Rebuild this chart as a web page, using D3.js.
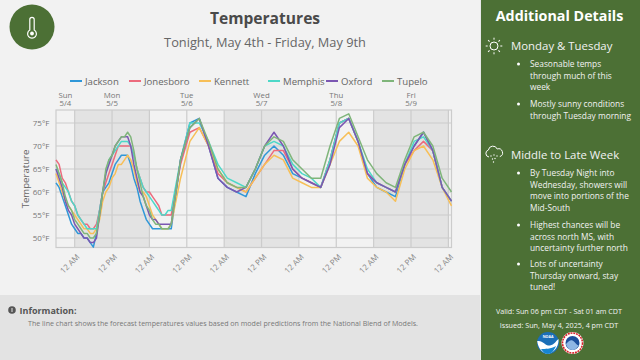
<!DOCTYPE html>
<html lang="en-us">
<head>
<meta charset="utf-8">
<title>Temperatures</title>
<script src="https://d3js.org/d3.v7.min.js"></script>
<style>
  html, body { margin: 0; padding: 0; background: #f2f2f2; }
  svg { display: block; font-family: "Open Sans", sans-serif; }
</style>
</head>
<body>
<div id="chart"></div>
<script>
// hours since Sun 6 pm: hourly at first, then every 3 hours
var hours = [0,1,2,3,4,5,6,7,8,9,10,11,12,13,14,15,16,17,18,19,20,21,22,23,24,25,26,27,28,29,30,31,32,33,34,35,36,37,
  40,43,46,49,52,55,58,61,64,67,70,73,76,79,82,85,88,91,94,97,100,103,106,109,112,115,118,121,124,127];

var jackson = [62,61,59,57,55,53,52,51,51,50,50,49,48,51,56,60,61,62,64,66,67,68,68,68,66,63,61,58,56,54,53,52,52,52,52,52,52,52,
  67,75,76,70,63,61,60,59,64,68,70,68,64,63,62,61,67,75,76,71,64,61,60,59,66,70,73,69,61,58];
var jonesboro = [67,66,63,62,60,58,57,55,54,53,53,52,52,53,56,60,62,64,66,68,70,70,70,70,70,68,65,63,61,60,60,59,58,57,55,55,55,55,
  66,73,74,70,64,62,61,60,63,66,69,69,65,63,62,61,67,75,76,71,64,62,61,60,66,69,71,69,61,58];
var kennett = [64,62,60,58,57,56,55,54,53,52,52,51,51,52,54,58,60,61,63,64,66,66,67,68,67,65,62,60,60,59,57,55,54,53,52,52,52,53,
  63,71,74,70,65,62,61,60,63,66,68,67,63,62,61,61,66,71,73,70,63,61,60,58,65,69,70,67,61,57];
var memphis = [65,64,62,61,60,58,57,55,54,53,52,52,52,52,56,60,64,67,68,69,70,71,71,71,70,68,65,63,61,60,59,58,57,56,55,55,56,56,
  67,75,75,71,66,63,62,61,65,70,71,70,66,64,63,61,67,75,76,71,65,62,61,60,66,71,72,69,61,58];
var oxford = [65,63,61,58,56,55,53,52,51,50,50,49,49,50,55,60,64,66,68,70,71,72,72,72,70,66,63,60,59,57,55,54,54,53,53,53,53,53,
  67,74,76,70,63,61,60,61,65,70,73,70,65,63,62,61,66,74,76,71,64,62,61,60,66,70,73,69,61,58];
var tupelo = [66,64,62,59,57,56,54,53,52,51,51,50,50,51,55,60,65,67,68,70,71,72,72,73,72,69,65,62,59,57,56,54,53,53,52,52,52,53,
  67,74,76,71,65,62,61,61,65,70,72,71,67,65,63,63,70,76,77,72,67,64,62,61,67,72,73,70,63,60];

var seriesNames = ["Jackson", "Jonesboro", "Kennett", "Memphis", "Oxford", "Tupelo"];
var seriesValues = [jackson, jonesboro, kennett, memphis, oxford, tupelo];
var seriesColors = ["#2f97d8", "#ec6b7d", "#f7bf57", "#4dd8c8", "#7b57b2", "#7fb57a"];

var yTicks = [50, 55, 60, 65, 70, 75];
var dayHours = [3, 18, 42, 66, 90, 114];
var dayNames = ["Sun", "Mon", "Tue", "Wed", "Thu", "Fri"];
var dayDates = ["5/4", "5/5", "5/6", "5/7", "5/8", "5/9"];
var xTickHours = [6, 18, 30, 42, 54, 66, 78, 90, 102, 114, 126];
var xTickLabels = ["12 AM", "12 PM", "12 AM", "12 PM", "12 AM", "12 PM", "12 AM", "12 PM", "12 AM", "12 PM", "12 AM"];
var nightStart = [6, 54, 102];
var nightEnd = [30, 78, 126];

var svg = d3.select("#chart").append("svg").attr("width", 640).attr("height", 360);
svg.append("rect").attr("width", 640).attr("height", 360).attr("fill", "#f2f2f2");

// header
svg.append("circle").attr("cx", 32).attr("cy", 27).attr("r", 22.5).attr("fill", "#4c7035");
var thermo = svg.append("g").attr("fill", "none").attr("stroke", "#fff").attr("stroke-width", 1.2);
thermo.append("path").attr("d", "M29.8 30V19.5a2.2 2.2 0 0 1 4.4 0V30a4.4 4.4 0 1 1-4.4 0z");
thermo.append("circle").attr("cx", 32).attr("cy", 33.5).attr("r", 1.9).attr("fill", "#fff").attr("stroke", "none");
svg.append("text").attr("x", 265).attr("y", 24).attr("text-anchor", "middle")
  .attr("font-size", 15.6).attr("font-weight", 700).attr("fill", "#4a4a4a").text("Temperatures");
svg.append("text").attr("x", 265).attr("y", 47).attr("text-anchor", "middle")
  .attr("font-size", 12.8).attr("fill", "#666").text("Tonight, May 4th - Friday, May 9th");

// chart
var plotLeft = 56, plotRight = 451.5, plotTop = 110, plotBottom = 247.5;
var x = d3.scaleLinear().domain([0, 127]).range([plotLeft, plotRight]);
var y = d3.scaleLinear().domain([47.93, 77.83]).range([plotBottom, plotTop]);

svg.selectAll(".night").data(nightStart).enter().append("rect")
  .attr("class", "night")
  .attr("x", function(d) { return x(d); })
  .attr("y", plotTop)
  .attr("width", function(d, i) { return x(nightEnd[i]) - x(d); })
  .attr("height", plotBottom - plotTop)
  .attr("fill", "#e3e3e3");

var gridColor = "#cccccc";
svg.selectAll(".hgrid").data(yTicks).enter().append("line")
  .attr("class", "hgrid")
  .attr("x1", plotLeft).attr("x2", plotRight)
  .attr("y1", function(d) { return y(d); })
  .attr("y2", function(d) { return y(d); })
  .attr("stroke", gridColor).attr("stroke-width", 1.2);
svg.selectAll(".vgrid").data(xTickHours).enter().append("line")
  .attr("class", "vgrid")
  .attr("x1", function(d) { return x(d); })
  .attr("x2", function(d) { return x(d); })
  .attr("y1", plotTop).attr("y2", plotBottom)
  .attr("stroke", gridColor).attr("stroke-width", 1.2);
svg.append("rect").attr("x", plotLeft).attr("y", plotTop)
  .attr("width", plotRight - plotLeft).attr("height", plotBottom - plotTop)
  .attr("fill", "none").attr("stroke", gridColor).attr("stroke-width", 1.2);

// y axis
var yAxis = d3.axisLeft(y).tickValues(yTicks).tickSize(0).tickPadding(6.5)
  .tickFormat(function(d) { return d + "°F"; });
var yG = svg.append("g").attr("transform", "translate(" + plotLeft + ",0)").call(yAxis);
yG.select(".domain").remove();
yG.selectAll("text").attr("font-size", 8).attr("font-family", "Open Sans").attr("fill", "#777");

svg.append("text").attr("transform", "translate(29,179) rotate(-90)")
  .attr("text-anchor", "middle").attr("font-size", 9.6).attr("fill", "#666").text("Temperature");

// bottom axis
var xAxis = d3.axisBottom(x).tickValues(xTickHours).tickSize(0).tickPadding(0)
  .tickFormat(function(d, i) { return xTickLabels[i]; });
var xG = svg.append("g").attr("transform", "translate(0," + plotBottom + ")").call(xAxis);
xG.select(".domain").remove();
xG.selectAll("text")
  .attr("font-size", 8).attr("font-family", "Open Sans").attr("fill", "#888")
  .attr("text-anchor", "end").attr("dy", 0)
  .attr("transform", "translate(5,10) rotate(-45)");

// day labels on top
var dayG = svg.selectAll(".day").data(dayHours).enter().append("text")
  .attr("class", "day")
  .attr("text-anchor", "middle").attr("font-size", 7.8).attr("fill", "#777");
dayG.append("tspan")
  .attr("x", function(d) { return x(d); }).attr("y", 97.5)
  .text(function(d, i) { return dayNames[i]; });
dayG.append("tspan")
  .attr("x", function(d) { return x(d); }).attr("y", 105.5)
  .text(function(d, i) { return dayDates[i]; });

// lines
var line = d3.line()
  .x(function(d, i) { return x(hours[i]); })
  .y(function(d) { return y(d); });
svg.selectAll(".series").data(seriesValues).enter().append("path")
  .attr("class", "series")
  .attr("fill", "none")
  .attr("stroke", function(d, i) { return seriesColors[i]; })
  .attr("stroke-width", 1.5)
  .attr("stroke-linejoin", "round")
  .attr("d", line);

// legend
var legendSwatch = [70, 129, 199, 268, 326, 382];
var legend = svg.selectAll(".legend").data(seriesNames).enter().append("g").attr("class", "legend");
legend.append("line")
  .attr("x1", function(d, i) { return legendSwatch[i]; })
  .attr("x2", function(d, i) { return legendSwatch[i] + 12; })
  .attr("y1", 81).attr("y2", 81)
  .attr("stroke", function(d, i) { return seriesColors[i]; })
  .attr("stroke-width", 2);
legend.append("text")
  .attr("x", function(d, i) { return legendSwatch[i] + 15; })
  .attr("y", 84.5)
  .attr("font-size", 9.6).attr("fill", "#666")
  .text(function(d) { return d; });

// information box
svg.append("rect").attr("x", 0).attr("y", 295).attr("width", 480).attr("height", 65).attr("fill", "#e3e3e3");
svg.append("circle").attr("cx", 12).attr("cy", 310).attr("r", 3.8).attr("fill", "#555");
svg.append("rect").attr("x", 11.5).attr("y", 308).attr("width", 1).attr("height", 4).attr("fill", "#e3e3e3");
svg.append("text").attr("x", 19.5).attr("y", 313.5)
  .attr("font-size", 9).attr("font-weight", 700).attr("fill", "#555").text("Information:");
svg.append("text").attr("x", 28).attr("y", 326)
  .attr("font-size", 7.08).attr("fill", "#777")
  .text("The line chart shows the forecast temperatures values based on model predictions from the National Blend of Models.");

// side panel
svg.append("rect").attr("x", 480).attr("y", 0).attr("width", 160).attr("height", 360).attr("fill", "#4c7035");
svg.append("rect").attr("x", 480).attr("y", 0).attr("width", 1).attr("height", 360).attr("fill", "#e8e8e8");
svg.append("text").attr("x", 559.5).attr("y", 20.5).attr("text-anchor", "middle")
  .attr("font-size", 14.3).attr("font-weight", 700).attr("fill", "#fff").text("Additional Details");

var headings = ["Monday & Tuesday", "Middle to Late Week"];
var headingY = [50, 158.5];
svg.selectAll(".heading").data(headings).enter().append("text")
  .attr("class", "heading")
  .attr("x", 511)
  .attr("y", function(d, i) { return headingY[i]; })
  .attr("font-size", 11.4).attr("fill", "#f2f2f2")
  .text(function(d) { return d; });

var bulletLines = [
  ["Seasonable temps", "through much of this", "week"],
  ["Mostly sunny conditions", "through Tuesday morning"],
  ["By Tuesday Night into", "Wednesday, showers will", "move into portions of the", "Mid-South"],
  ["Highest chances will be", "across north MS, with", "uncertainty further north"],
  ["Lots of uncertainty", "Thursday onward, stay", "tuned!"]
];
var bulletTop = [67, 107, 176, 228, 267];
var lineGap = 11.5;
bulletLines.forEach(function(lines, i) {
  svg.append("circle").attr("cx", 518.5).attr("cy", bulletTop[i] - 3).attr("r", 1.5).attr("fill", "#fff");
  lines.forEach(function(t, j) {
    svg.append("text").attr("x", 530).attr("y", bulletTop[i] + j * lineGap)
      .attr("font-size", 8.35).attr("fill", "#f2f2f2").text(t);
  });
});

svg.append("text").attr("x", 559).attr("y", 314).attr("text-anchor", "middle")
  .attr("font-size", 7.2).attr("fill", "#f2f2f2").text("Valid: Sun 06 pm CDT - Sat 01 am CDT");
svg.append("text").attr("x", 559).attr("y", 328).attr("text-anchor", "middle")
  .attr("font-size", 7.2).attr("fill", "#f2f2f2").text("Issued: Sun, May 4, 2025, 4 pm CDT");

// sun icon
var sun = svg.append("g").attr("transform", "translate(494,46)");
sun.append("circle").attr("r", 4).attr("fill", "none").attr("stroke", "#fff").attr("stroke-width", 1);
sun.selectAll("line").data(d3.range(8)).enter().append("line")
  .attr("y1", -6.3).attr("y2", -8.3)
  .attr("transform", function(d) { return "rotate(" + d * 45 + ")"; })
  .attr("stroke", "#fff").attr("stroke-width", 1);

// rain cloud icon
var cloud = svg.append("g").attr("transform", "translate(494,154)");
cloud.append("path")
  .attr("d", "M-5 3a3.6 3.6 0 0 1-.6-7 4.6 4.6 0 0 1 8.8-1 3.9 3.9 0 0 1 2.6 7.6")
  .attr("fill", "none").attr("stroke", "#fff").attr("stroke-width", 1);
cloud.selectAll("circle").data([[-3, 2], [0, 1], [3, 2], [-1.5, 5], [1, 4.5], [-.5, 8]]).enter().append("circle")
  .attr("cx", function(d) { return d[0]; })
  .attr("cy", function(d) { return d[1]; })
  .attr("r", .7).attr("fill", "#fff");

// agency logos
var noaa = svg.append("g").attr("transform", "translate(548,343)");
noaa.append("circle").attr("r", 11).attr("fill", "#1b6fb8");
noaa.append("path").attr("d", "M-10.8 -2C-5 -3 -3 3 2 2.5C6 2 9 -3 10.5 -4C11 1 8 9 0 11C-6 10 -10 5 -10.8 -2z").attr("fill", "#fff");
noaa.append("path").attr("d", "M-7 6C-3 6 3 6 8 3C6 8 3 11 0 11C-3 11 -5 9 -7 6z").attr("fill", "#1685d0");
noaa.append("text").attr("y", -5).attr("text-anchor", "middle").attr("font-size", 3.6).attr("font-weight", 700).attr("fill", "#fff").text("NOAA");

var nws = svg.append("g").attr("transform", "translate(572.5,343)");
nws.append("circle").attr("r", 11).attr("fill", "#fff");
nws.append("circle").attr("r", 10).attr("fill", "none").attr("stroke", "#d8232a").attr("stroke-width", 1.6).attr("stroke-dasharray", "2 .8");
nws.append("circle").attr("r", 7).attr("fill", "#1c4f9c");
nws.append("path").attr("d", "M-6.5 1C-3 -3 -1 -4 2 -1C4 1 5 3 6.5 2C5 5 2 7 0 7C-3 7 -6 4 -6.5 1z").attr("fill", "#8fb7e4");
</script>
</body>
</html>
